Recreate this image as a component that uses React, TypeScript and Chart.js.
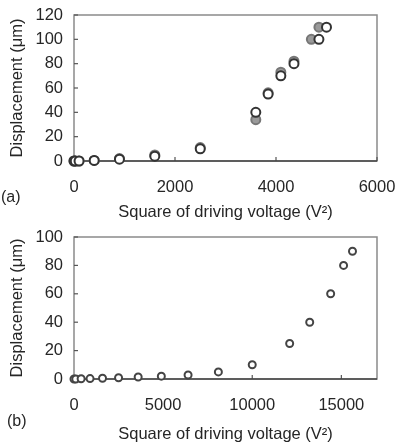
import React, { useEffect, useRef } from "react";
import { Chart, registerables } from "chart.js";

Chart.register(...registerables);

// ---------- Data: panel (a) ----------
const xA_gray = [0, 25, 100, 400, 900, 1600, 2500, 3600, 3844, 4096, 4356, 4700, 4850];
const yA_gray = [0, 0, 0, 0.5, 2, 5, 11, 34, 56, 73, 82, 100, 110];
const xA_open = [0, 25, 100, 400, 900, 1600, 2500, 3600, 3844, 4096, 4356, 4850, 5000];
const yA_open = [0, 0, 0, 0.5, 1.5, 4, 10, 40, 55, 70, 80, 100, 110];
const xTicksA = [0, 2000, 4000, 6000];
const yTicksA = [0, 20, 40, 60, 80, 100, 120];

// ---------- Data: panel (b) ----------
const xB = [0, 100, 400, 900, 1600, 2500, 3600, 4900, 6400, 8100, 10000, 12100, 13225, 14400, 15125, 15625];
const yB = [0, 0, 0.2, 0.3, 0.5, 0.9, 1.4, 2, 2.8, 5, 10, 25, 40, 60, 80, 90];
const xTicksB = [0, 5000, 10000, 15000];
const yTicksB = [0, 20, 40, 60, 80, 100];

const X_TITLE = "Square of driving voltage (V\u00B2)";
const Y_TITLE = "Displacement (\u03BCm)";

const FONT = "'Liberation Sans', Arial, Helvetica, sans-serif";
const TEXT = "#262626";
const CANVAS_W = 396;
const CANVAS_H = 230;

const zeroPad = (s: any) => {
  s.paddingLeft = 0;
  s.paddingRight = 0;
  s.paddingTop = 0;
  s.paddingBottom = 0;
};

const framePlugin = {
  id: "frame",
  beforeDatasetsDraw(chart: any) {
    const { ctx, chartArea: a, scales } = chart;
    ctx.save();
    ctx.strokeStyle = "#8a8a8a";
    ctx.lineWidth = 1.5;
    ctx.strokeRect(a.left, a.top, a.right - a.left, a.bottom - a.top);
    ctx.strokeStyle = "#555";
    ctx.lineWidth = 1.2;
    scales.y.ticks.forEach((t: any) => {
      const y = scales.y.getPixelForValue(t.value);
      ctx.beginPath();
      ctx.moveTo(a.left, y);
      ctx.lineTo(a.left + 4, y);
      ctx.stroke();
    });
    scales.x.ticks.forEach((t: any) => {
      const x = scales.x.getPixelForValue(t.value);
      ctx.beginPath();
      ctx.moveTo(x, a.bottom);
      ctx.lineTo(x, a.bottom - 4);
      ctx.stroke();
    });
    ctx.strokeStyle = "#444";
    ctx.lineWidth = 1.5;
    ctx.beginPath();
    ctx.moveTo(a.left, a.bottom);
    ctx.lineTo(a.right, a.bottom);
    ctx.stroke();
    ctx.restore();
  },
};

type PanelProps = {
  top: number;
  datasets: any[];
  xMax: number;
  yMax: number;
  xTicks: number[];
  yTicks: number[];
  plotTop: number;
  plotBottom: number;
};

function Panel({ top, datasets, xMax, yMax, xTicks, yTicks, plotTop, plotBottom }: PanelProps) {
  const ref = useRef<HTMLCanvasElement | null>(null);
  useEffect(() => {
    if (!ref.current) return;
    const chart = new Chart(ref.current, {
      type: "scatter",
      data: { datasets },
      plugins: [framePlugin],
      options: {
        animation: false,
        responsive: false,
        devicePixelRatio: 1,
        layout: { autoPadding: false, padding: { left: 0, right: 19, top: plotTop, bottom: 0 } },
        plugins: { legend: { display: false }, tooltip: { enabled: false } },
        scales: {
          x: {
            type: "linear",
            min: 0,
            max: xMax,
            afterBuildTicks: (s: any) => {
              s.ticks = xTicks.map((v) => ({ value: v }));
            },
            afterFit: (s: any) => {
              s.height = CANVAS_H - plotBottom;
              zeroPad(s);
            },
            grid: { display: false, drawTicks: false },
            border: { display: false },
            ticks: {
              font: { family: FONT, size: 16.5 },
              color: TEXT,
              padding: 17,
              maxRotation: 0,
              autoSkip: false,
              callback: (v: any) => String(v),
            },
            title: {
              display: true,
              text: X_TITLE,
              font: { family: FONT, size: 16.5 },
              color: TEXT,
              padding: { top: 0, bottom: 8 },
            },
          },
          y: {
            type: "linear",
            min: 0,
            max: yMax,
            afterBuildTicks: (s: any) => {
              s.ticks = yTicks.map((v) => ({ value: v }));
            },
            afterFit: (s: any) => {
              s.width = 74;
              zeroPad(s);
            },
            grid: { display: false, drawTicks: false },
            border: { display: false },
            ticks: {
              font: { family: FONT, size: 16.5 },
              color: TEXT,
              padding: 11,
              autoSkip: false,
              callback: (v: any) => String(v),
            },
            title: {
              display: true,
              text: Y_TITLE,
              font: { family: FONT, size: 16.5 },
              color: TEXT,
              padding: { top: 8, bottom: 0 },
            },
          },
        },
      },
    } as any);
    return () => chart.destroy();
  }, []);
  return (
    <canvas
      ref={ref}
      width={CANVAS_W}
      height={CANVAS_H}
      style={{ position: "absolute", left: 0, top, width: CANVAS_W, height: CANVAS_H, display: "block" }}
    />
  );
}

const toPts = (xs: number[], ys: number[]) => xs.map((x, i) => ({ x, y: ys[i] }));

export default function App() {
  const dsA = [
    {
      label: "open",
      data: toPts(xA_open, yA_open),
      pointRadius: 4.5,
      pointBorderWidth: 2,
      pointBorderColor: "#333",
      pointBackgroundColor: "#ffffff",
      clip: false,
      order: 1,
    },
    {
      label: "gray",
      data: toPts(xA_gray, yA_gray),
      pointRadius: 4.5,
      pointBorderWidth: 2,
      pointBorderColor: "#777",
      pointBackgroundColor: "#9a9a9a",
      clip: false,
      order: 2,
    },
  ];
  const dsB = [
    {
      label: "b",
      data: toPts(xB, yB),
      pointRadius: 3.5,
      pointBorderWidth: 2,
      pointBorderColor: "#444",
      pointBackgroundColor: "#ffffff",
      clip: false,
    },
  ];
  const labelStyle: React.CSSProperties = {
    position: "absolute",
    fontFamily: FONT,
    fontSize: 16,
    color: TEXT,
    lineHeight: "18px",
  };
  return (
    <div
      style={{
        position: "fixed",
        left: 0,
        top: 0,
        width: 396,
        height: 444,
        background: "#fff",
        overflow: "hidden",
      }}
    >
      <Panel top={0} datasets={dsA} xMax={6000} yMax={120} xTicks={xTicksA} yTicks={yTicksA} plotTop={15} plotBottom={161} />
      <Panel top={222} datasets={dsB} xMax={17000} yMax={100} xTicks={xTicksB} yTicks={yTicksB} plotTop={15} plotBottom={157} />
      <div style={{ ...labelStyle, left: 1, top: 188 }}>(a)</div>
      <div style={{ ...labelStyle, left: 7, top: 412 }}>(b)</div>
    </div>
  );
}
